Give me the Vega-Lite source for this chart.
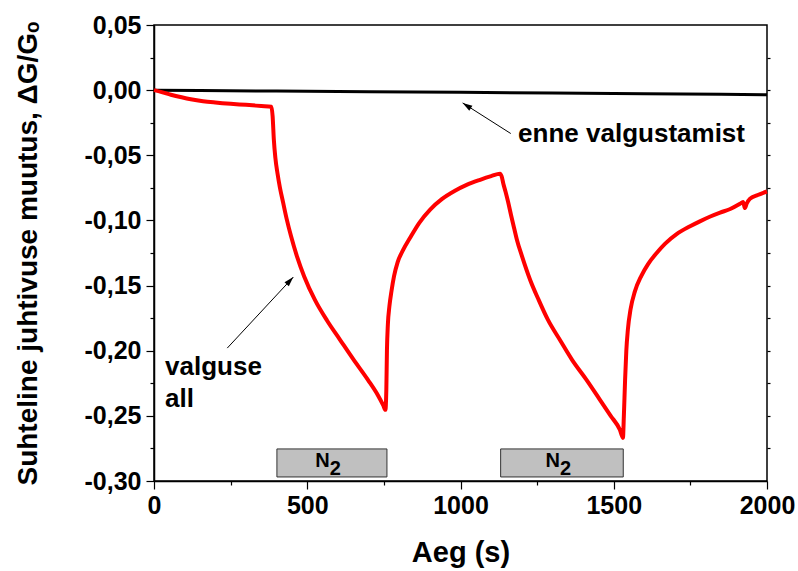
{
  "$schema": "https://vega.github.io/schema/vega-lite/v6.json",
  "width": 613,
  "height": 456,
  "autosize": {"type": "none"},
  "padding": {"left": 154, "top": 25, "right": 31, "bottom": 90},
  "background": "white",
  "config": {
    "font": "Liberation Sans",
    "view": {"stroke": "black", "strokeWidth": 1.5},
    "axis": {
      "grid": false,
      "labelFont": "Liberation Sans",
      "labelFontWeight": "bold",
      "labelColor": "black",
      "labelFontSize": 25,
      "labelFlush": false,
      "labelOverlap": false,
      "tickColor": "black",
      "tickWidth": 1.2,
      "domainColor": "black",
      "domainWidth": 1.5,
      "titleFont": "Liberation Sans",
      "titleFontWeight": "bold",
      "titleColor": "black"
    }
  },
  "datasets": {
    "red": [
      {"t": 0, "g": 0}, {"t": 25, "g": -0.0015}, {"t": 55, "g": -0.0035}, {"t": 90, "g": -0.0055},
      {"t": 120, "g": -0.007}, {"t": 160, "g": -0.0085}, {"t": 200, "g": -0.0095}, {"t": 250, "g": -0.0105},
      {"t": 300, "g": -0.0113}, {"t": 350, "g": -0.0122}, {"t": 383, "g": -0.0128}, {"t": 387, "g": -0.02},
      {"t": 391, "g": -0.038}, {"t": 396, "g": -0.052}, {"t": 403, "g": -0.064}, {"t": 411, "g": -0.075},
      {"t": 421, "g": -0.086}, {"t": 433, "g": -0.099}, {"t": 447, "g": -0.112}, {"t": 467, "g": -0.128},
      {"t": 490, "g": -0.143}, {"t": 525, "g": -0.161}, {"t": 565, "g": -0.177}, {"t": 607, "g": -0.1916},
      {"t": 650, "g": -0.2065}, {"t": 698, "g": -0.2224}, {"t": 730, "g": -0.234}, {"t": 748, "g": -0.242},
      {"t": 755, "g": -0.2454}, {"t": 758, "g": -0.23}, {"t": 760, "g": -0.2}, {"t": 763, "g": -0.18},
      {"t": 768, "g": -0.166}, {"t": 775, "g": -0.154}, {"t": 783, "g": -0.143}, {"t": 795, "g": -0.132},
      {"t": 812, "g": -0.123}, {"t": 835, "g": -0.1135}, {"t": 865, "g": -0.102}, {"t": 901, "g": -0.0917},
      {"t": 940, "g": -0.0835}, {"t": 982, "g": -0.0772}, {"t": 1020, "g": -0.0727}, {"t": 1064, "g": -0.0688},
      {"t": 1100, "g": -0.066}, {"t": 1129, "g": -0.0641}, {"t": 1134, "g": -0.066}, {"t": 1140, "g": -0.072},
      {"t": 1147, "g": -0.078}, {"t": 1155, "g": -0.0855}, {"t": 1165, "g": -0.096}, {"t": 1175, "g": -0.106},
      {"t": 1184, "g": -0.1148}, {"t": 1200, "g": -0.127}, {"t": 1227, "g": -0.1455}, {"t": 1255, "g": -0.161},
      {"t": 1285, "g": -0.1762}, {"t": 1325, "g": -0.192}, {"t": 1364, "g": -0.207}, {"t": 1410, "g": -0.222},
      {"t": 1455, "g": -0.2377}, {"t": 1490, "g": -0.25}, {"t": 1520, "g": -0.2607}, {"t": 1530, "g": -0.2669},
      {"t": 1533, "g": -0.25}, {"t": 1537, "g": -0.2224}, {"t": 1541, "g": -0.2}, {"t": 1546, "g": -0.184},
      {"t": 1555, "g": -0.168}, {"t": 1569, "g": -0.1545}, {"t": 1590, "g": -0.1425}, {"t": 1612, "g": -0.1335},
      {"t": 1640, "g": -0.1250}, {"t": 1667, "g": -0.1180}, {"t": 1705, "g": -0.1105}, {"t": 1749, "g": -0.1045},
      {"t": 1781, "g": -0.1007}, {"t": 1815, "g": -0.097}, {"t": 1847, "g": -0.094}, {"t": 1880, "g": -0.0912},
      {"t": 1912, "g": -0.0872}, {"t": 1922, "g": -0.0858}, {"t": 1928, "g": -0.0905}, {"t": 1934, "g": -0.087},
      {"t": 1944, "g": -0.0835}, {"t": 1970, "g": -0.0805}, {"t": 2000, "g": -0.0778}
    ],
    "black": [
      {"t": 0, "g": 0}, {"t": 150, "g": -0.0003}, {"t": 400, "g": -0.0007}, {"t": 700, "g": -0.0012},
      {"t": 1000, "g": -0.0017}, {"t": 1300, "g": -0.0022}, {"t": 1600, "g": -0.0027}, {"t": 1850, "g": -0.0032},
      {"t": 2000, "g": -0.0035}
    ],
    "boxes": [
      {"start": 401, "end": 760, "lo": -0.2969, "hi": -0.2754, "mid": 580},
      {"start": 1131, "end": 1531, "lo": -0.2969, "hi": -0.2754, "mid": 1331}
    ],
    "arrows": [
      {"x1": 1164, "y1": -0.0333, "x2": 1007, "y2": -0.0098},
      {"x1": 239, "y1": -0.198, "x2": 454.5, "y2": -0.1435}
    ],
    "notes": [
      {"x": 1188, "y": -0.0395, "label": "enne valgustamist"},
      {"x": 36, "y": -0.2185, "label": "valguse"},
      {"x": 36, "y": -0.2431, "label": "all"}
    ]
  },
  "resolve": {"axis": {"x": "independent", "y": "independent"}},
  "layer": [
    {
      "data": {"name": "boxes"},
      "mark": {"type": "rect", "fill": "#c0c0c0", "stroke": "#333333", "strokeWidth": 1},
      "encoding": {
        "x": {"field": "start", "type": "quantitative", "scale": {"domain": [0, 2000], "nice": false, "zero": false},
          "axis": {"orient": "bottom", "values": [0, 500, 1000, 1500, 2000], "tickSize": 8, "labelPadding": 4, "format": "d",
            "title": "Aeg (s)", "titleFontSize": 29, "titlePadding": 20}},
        "x2": {"field": "end"},
        "y": {"field": "lo", "type": "quantitative", "scale": {"domain": [-0.3, 0.05], "nice": false, "zero": false},
          "axis": {"orient": "left", "values": [-0.3, -0.25, -0.2, -0.15, -0.1, -0.05, 0, 0.05], "tickSize": 8, "labelPadding": 5,
            "labelExpr": "replace(replace(format(datum.value, '.2f'), '.', ','), '\u2212', '-')",
            "title": "Suhteline juhtivuse muutus, ΔG/Gₒ", "titleFontSize": 28, "titlePadding": 42}},
        "y2": {"field": "hi"}
      }
    },
    {
      "data": {"name": "black"},
      "mark": {"type": "line", "color": "black", "strokeWidth": 3},
      "encoding": {
        "x": {"field": "t", "type": "quantitative", "scale": {"domain": [0, 2000], "nice": false, "zero": false},
          "axis": {"orient": "bottom", "values": [250, 750, 1250, 1750], "labels": false, "tickSize": 4, "domain": false, "title": null}},
        "y": {"field": "g", "type": "quantitative", "scale": {"domain": [-0.3, 0.05], "nice": false, "zero": false},
          "axis": {"orient": "left", "values": [-0.275, -0.225, -0.175, -0.125, -0.075, -0.025, 0.025], "labels": false, "tickSize": 4, "domain": false, "title": null}}
      }
    },
    {
      "data": {"name": "red"},
      "mark": {"type": "line", "color": "#ff0000", "strokeWidth": 4, "interpolate": "monotone"},
      "encoding": {
        "x": {"field": "t", "type": "quantitative", "axis": null},
        "y": {"field": "g", "type": "quantitative",
          "axis": {"orient": "right", "values": [-0.275, -0.25, -0.225, -0.2, -0.175, -0.15, -0.125, -0.1, -0.075, -0.05, -0.025, 0, 0.025], "labels": false, "tickSize": 3, "domain": false, "title": null}}
      }
    },
    {
      "data": {"name": "arrows"},
      "mark": {"type": "rule", "color": "black", "strokeWidth": 1},
      "encoding": {
        "x": {"field": "x1", "type": "quantitative", "axis": null},
        "y": {"field": "y1", "type": "quantitative", "axis": null},
        "x2": {"field": "x2"},
        "y2": {"field": "y2"}
      }
    },
    {
      "data": {"values": [{"x": 1007, "y": -0.0098}]},
      "mark": {"type": "point", "shape": "M0,0L-0.3,1L0.3,1Z", "filled": true, "color": "black", "opacity": 1, "size": 380, "angle": 302.6},
      "encoding": {
        "x": {"field": "x", "type": "quantitative", "axis": null},
        "y": {"field": "y", "type": "quantitative", "axis": null}
      }
    },
    {
      "data": {"values": [{"x": 454.5, "y": -0.1435}]},
      "mark": {"type": "point", "shape": "M0,0L-0.3,1L0.3,1Z", "filled": true, "color": "black", "opacity": 1, "size": 380, "angle": 42.9},
      "encoding": {
        "x": {"field": "x", "type": "quantitative", "axis": null},
        "y": {"field": "y", "type": "quantitative", "axis": null}
      }
    },
    {
      "data": {"name": "notes"},
      "mark": {"type": "text", "align": "left", "baseline": "alphabetic", "fontSize": 26, "fontWeight": "bold", "font": "Liberation Sans", "color": "black"},
      "encoding": {
        "x": {"field": "x", "type": "quantitative", "axis": null},
        "y": {"field": "y", "type": "quantitative", "axis": null},
        "text": {"field": "label"}
      }
    },
    {
      "data": {"name": "boxes"},
      "mark": {"type": "text", "align": "right", "baseline": "alphabetic", "fontSize": 20, "fontWeight": "bold", "font": "Liberation Sans", "color": "black", "dx": -2, "dy": -10},
      "encoding": {
        "x": {"field": "mid", "type": "quantitative", "axis": null},
        "y": {"field": "lo", "type": "quantitative", "axis": null},
        "text": {"value": "N"}
      }
    },
    {
      "data": {"name": "boxes"},
      "mark": {"type": "text", "align": "left", "baseline": "alphabetic", "fontSize": 20, "fontWeight": "bold", "font": "Liberation Sans", "color": "black", "dx": -2, "dy": -2},
      "encoding": {
        "x": {"field": "mid", "type": "quantitative", "axis": null},
        "y": {"field": "lo", "type": "quantitative", "axis": null},
        "text": {"value": "2"}
      }
    }
  ]
}
